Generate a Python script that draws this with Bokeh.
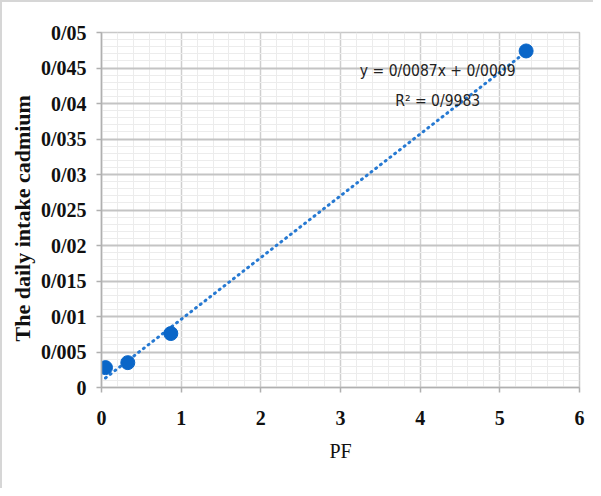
from bokeh.plotting import figure
from bokeh.models import CustomJSTickFormatter, FixedTicker, Label, Range1d
from bokeh.embed import file_html
from bokeh.resources import INLINE

# data
pf = [0.05, 0.33, 0.87, 5.33]
intake = [0.0028, 0.0035, 0.0076, 0.0474]
slope = 0.0087
intercept = 0.0009
eq_text = "y = 0/0087x + 0/0009"
r2_text = "R\u00b2 = 0/9983"
x_ticks = [0, 1, 2, 3, 4, 5, 6]
y_ticks = [0, 0.005, 0.01, 0.015, 0.02, 0.025, 0.03, 0.035, 0.04, 0.045, 0.05]

p = figure(width=593, height=488, output_backend="svg", toolbar_location=None,
           x_range=Range1d(0, 6), y_range=Range1d(0, 0.05),
           min_border_left=99, min_border_right=16, min_border_top=30, min_border_bottom=103)
p.styles = {"border-top": "2px solid #d6d6d6", "border-left": "2px solid #d6d6d6"}
p.outline_line_color = "#c8c8c8"
p.outline_line_width = 1.5

# grid
p.xaxis.ticker = FixedTicker(ticks=x_ticks, minor_ticks=[i * 0.2 for i in range(31)])
p.yaxis.ticker = FixedTicker(ticks=y_ticks, minor_ticks=[i * 0.001 for i in range(51)])
p.xgrid.grid_line_color = "#cfcfcf"
p.xgrid.grid_line_width = 1.5
p.ygrid.grid_line_color = "#c4c4c4"
p.ygrid.grid_line_width = 2
p.xgrid.minor_grid_line_color = "#ececec"
p.ygrid.minor_grid_line_color = "#ececec"

# axes
for ax in (p.xaxis, p.yaxis):
    ax.axis_line_color = "#b0b0b0"
    ax.axis_line_width = 1.5
    ax.major_tick_line_color = "#b0b0b0"
    ax.major_tick_line_width = 1.5
    ax.major_tick_out = 5
    ax.major_tick_in = 0
    ax.minor_tick_line_color = None
    ax.major_label_text_font = "Liberation Serif"
    ax.major_label_text_font_style = "bold"
    ax.major_label_text_font_size = "20px"
    ax.major_label_text_color = "#111111"
    ax.axis_label_text_font = "Liberation Serif"
    ax.axis_label_text_color = "#111111"

p.yaxis.formatter = CustomJSTickFormatter(
    code="return Number(tick.toFixed(4)).toString().replace('.', '/');")
p.xaxis.major_label_standoff = 18
p.yaxis.major_label_standoff = 10
p.xaxis.axis_label = "PF"
p.xaxis.axis_label_text_font_style = "normal"
p.xaxis.axis_label_text_font_size = "20px"
p.xaxis.axis_label_standoff = 12
p.yaxis.axis_label = "The  daily  intake  cadmium"
p.yaxis.axis_label_text_font_style = "bold"
p.yaxis.axis_label_text_font_size = "22px"
p.yaxis.axis_label_standoff = 3

# trendline
x0, x1 = min(pf), max(pf)
p.line([x0, x1], [slope * x0 + intercept, slope * x1 + intercept],
       line_color="#2679d2", line_width=3, line_dash="1 5", line_cap="round")

# points
p.scatter(pf, intake, size=14, fill_color="#0a66c8", line_color="#0a66c8")

# equation labels
font_stack = "'Liberation Sans Narrow', 'DejaVu Sans Condensed', 'Liberation Sans', sans-serif"
p.add_layout(Label(x=4.22, y=0.0446, text=eq_text, text_align="center", text_baseline="middle",
                   text_font=font_stack, text_font_size="15.5px", text_color="#222222"))
p.add_layout(Label(x=4.22, y=0.0404, text=r2_text, text_align="center", text_baseline="middle",
                   text_font=font_stack, text_font_size="15.5px", text_color="#222222"))

open("out.html", "w").write(file_html(p, INLINE))
